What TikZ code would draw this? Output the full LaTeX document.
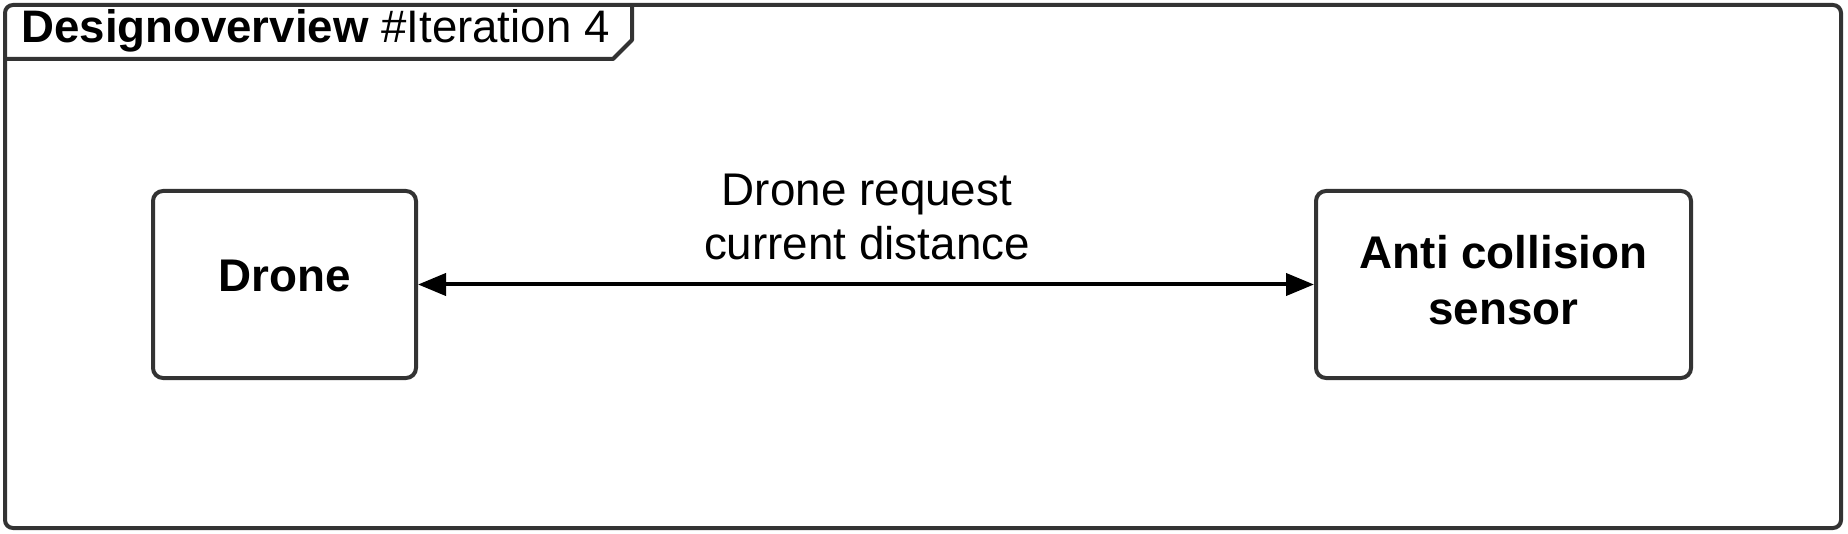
\documentclass[tikz,border=0pt]{standalone}
\usepackage{fontspec}
\setmainfont{Liberation Sans}
\usetikzlibrary{arrows.meta}
\definecolor{frameclr}{HTML}{333333}
\tikzset{
  block/.style={draw=frameclr, line width=2pt, rounded corners=5pt, fill=white, inner sep=0pt},
  blocktext/.style={align=center, font=\fontsize{22.9}{28}\selectfont\bfseries, inner sep=0pt},
  conn/.style={line width=2pt, {Triangle[length=14pt,width=11pt]}-{Triangle[length=14pt,width=11pt]}},
  lbltext/.style={align=center, font=\fontsize{22.9}{27.3}\selectfont, inner sep=0pt}
}
\begin{document}
\begin{tikzpicture}[x=0.5pt,y=-0.5pt]
\useasboundingbox (0,0) rectangle (1848,534);
% outer frame
\draw[frameclr, line width=2pt, rounded corners=4pt] (5,5) rectangle (1841,528);
% title tab
\coordinate (tabA) at (5,59);
\coordinate (tabB) at (613,59);
\coordinate (tabC) at (632,40);
\coordinate (tabD) at (632,5);
\draw[frameclr, line width=2pt, line join=round] (tabA) -- (tabB) -- (tabC) -- (tabD);
\node[anchor=base west, inner sep=0pt, font=\fontsize{22.8}{26}\selectfont] (title) at (21,43)
  {\textbf{Designoverview} \#Iteration 4};
% blocks
\node[block, minimum width=131.5pt, minimum height=93.5pt] (drone) at (284.5,284.5) {};
\node[blocktext] (dronetxt) at (285,276) {Drone};
\node[block, minimum width=187.5pt, minimum height=93.5pt] (anti) at (1503.5,284.5) {};
\node[blocktext] (antitxt) at (1503.5,280) {Anti collision\\sensor};
% connector
\draw[conn] (drone.east) -- (anti.west);
\node[lbltext] (lbl) at (867,217) {Drone request\\current distance};
\end{tikzpicture}
\end{document}
